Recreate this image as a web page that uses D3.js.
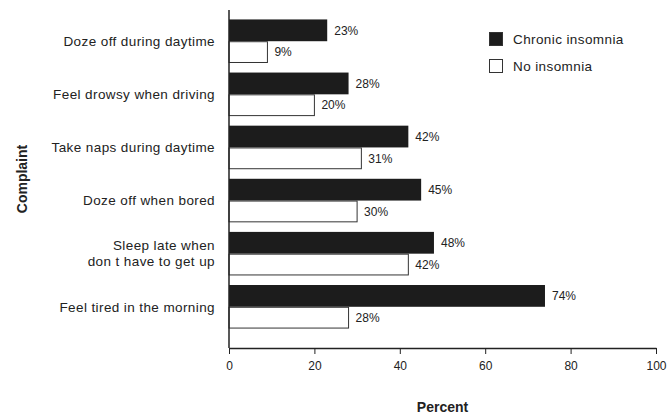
<!DOCTYPE html>
<html>
<head>
<meta charset="utf-8">
<script src="https://cdn.jsdelivr.net/npm/d3@7"></script>
<style>
  body { margin: 0; background: #fff; }
  text { font-family: "Liberation Sans", Arial, sans-serif; fill: #222; }
  .axis path, .axis line { stroke: #222; }
</style>
</head>
<body>
<div id="chart"></div>
<script>
// complaints, top to bottom
const complaints = [
  ["Doze off during daytime"],
  ["Feel drowsy when driving"],
  ["Take naps during daytime"],
  ["Doze off when bored"],
  ["Sleep late when", "don t have to get up"],
  ["Feel tired in the morning"]
];
const chronic = [23, 28, 42, 45, 48, 74];
const noInsomnia = [9, 20, 31, 30, 42, 28];
const seriesNames = ["Chronic insomnia", "No insomnia"];
const xTicks = [0, 20, 40, 60, 80, 100];

const width = 667;
const height = 419;
const margin = { top: 10, right: 11, bottom: 71, left: 229 };

const svg = d3.select("#chart")
  .append("svg")
  .attr("width", width)
  .attr("height", height);

const x = d3.scaleLinear().domain([0, 100]).range([margin.left, width - margin.right]);
const y = d3.scaleBand()
  .domain(d3.range(complaints.length))
  .range([margin.top + 2, height - margin.bottom - 12])
  .paddingInner(0.18)
  .paddingOuter(0.14);
const sub = d3.scaleBand().domain([0, 1]).range([0, y.bandwidth()]);

// bars
const groups = svg.append("g")
  .selectAll("g")
  .data(complaints)
  .join("g")
    .attr("transform", (d, i) => `translate(0,${y(i)})`);

groups.append("rect")
  .attr("x", x(0))
  .attr("y", sub(0))
  .attr("width", (d, i) => x(chronic[i]) - x(0))
  .attr("height", sub.bandwidth())
  .attr("fill", "#1c1c1c");

groups.append("rect")
  .attr("x", x(0))
  .attr("y", sub(1) + 0.5)
  .attr("width", (d, i) => x(noInsomnia[i]) - x(0))
  .attr("height", sub.bandwidth() - 1)
  .attr("fill", "#fff")
  .attr("stroke", "#333")
  .attr("stroke-width", 1);

// value labels
groups.append("text")
  .attr("x", (d, i) => x(chronic[i]) + 7)
  .attr("y", sub(0) + sub.bandwidth() / 2)
  .attr("dy", "0.35em")
  .attr("font-size", 12)
  .text((d, i) => chronic[i] + "%");

groups.append("text")
  .attr("x", (d, i) => x(noInsomnia[i]) + 7)
  .attr("y", sub(1) + sub.bandwidth() / 2)
  .attr("dy", "0.35em")
  .attr("font-size", 12)
  .text((d, i) => noInsomnia[i] + "%");

// category labels
groups.append("text")
  .attr("text-anchor", "end")
  .attr("font-size", 13.5)
  .attr("letter-spacing", 0.4)
  .each(function(d) {
    const t = d3.select(this);
    const cy = y.bandwidth() / 2;
    d.forEach((line, j) => {
      t.append("tspan")
        .attr("x", margin.left - 14)
        .attr("y", cy + (j - (d.length - 1) / 2) * 16)
        .attr("dy", "0.35em")
        .text(line);
    });
  });

// axes
const axisY = height - margin.bottom;
svg.append("g")
  .attr("class", "axis")
  .attr("transform", `translate(0,${axisY})`)
  .call(d3.axisBottom(x).tickValues(xTicks).tickSize(6).tickSizeOuter(0))
  .call(g => g.select(".domain").attr("stroke-width", 1.5))
  .call(g => g.selectAll(".tick text").attr("font-size", 12).attr("dy", "1.05em")
    .attr("font-family", "Liberation Sans, Arial, sans-serif").attr("fill", "#222"));

svg.append("line")
  .attr("x1", x(0)).attr("x2", x(0))
  .attr("y1", margin.top).attr("y2", axisY)
  .attr("stroke", "#222")
  .attr("stroke-width", 1.5);

// axis titles
svg.append("text")
  .attr("x", (x(0) + x(100)) / 2)
  .attr("y", 412)
  .attr("text-anchor", "middle")
  .attr("font-size", 14)
  .attr("font-weight", "bold")
  .text("Percent");

svg.append("text")
  .attr("transform", `translate(27,${(margin.top + axisY) / 2}) rotate(-90)`)
  .attr("text-anchor", "middle")
  .attr("font-size", 14)
  .attr("font-weight", "bold")
  .text("Complaint");

// legend
const legend = svg.append("g")
  .attr("transform", "translate(489,32)");
seriesNames.forEach((name, i) => {
  legend.append("rect")
    .attr("x", 0.5)
    .attr("y", i * 27 + 0.5)
    .attr("width", 13)
    .attr("height", 13)
    .attr("fill", i === 0 ? "#1c1c1c" : "#fff")
    .attr("stroke", "#333");
  legend.append("text")
    .attr("x", 24)
    .attr("y", i * 27 + 7)
    .attr("dy", "0.35em")
    .attr("font-size", 13.5)
    .attr("letter-spacing", 0.4)
    .text(name);
});
</script>
</body>
</html>
